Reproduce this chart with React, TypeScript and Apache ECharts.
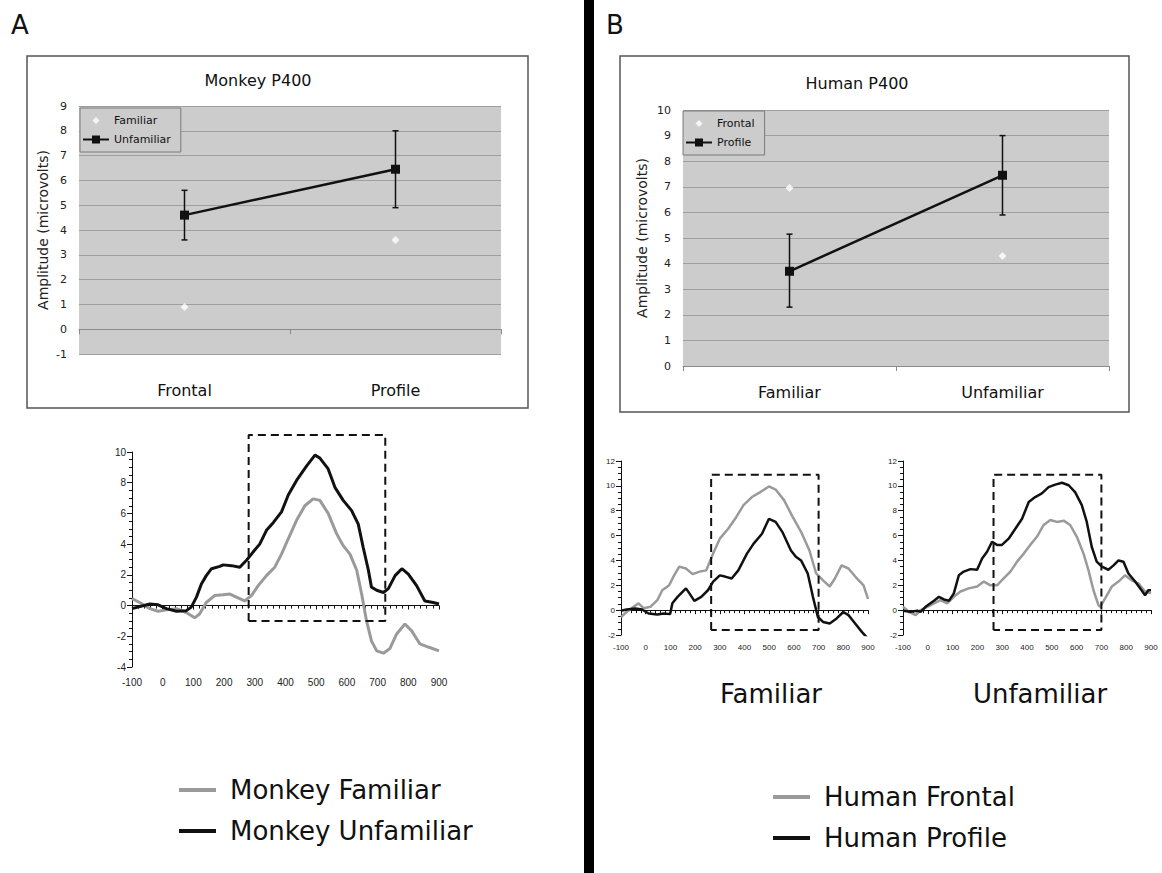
import React, { useEffect, useRef } from "react";
import * as echarts from "echarts";

// ---------- Top panels (P400 means) ----------
const monkeyCategories = ["Frontal", "Profile"];
const monkeyFamiliar = [0.9, 3.6];
const monkeyUnfamiliar = [4.6, 6.45];
const monkeyUnfamiliarLow = [3.6, 4.9];
const monkeyUnfamiliarHigh = [5.6, 8.0];

const humanCategories = ["Familiar", "Unfamiliar"];
const humanFrontal = [6.95, 4.3];
const humanProfile = [3.7, 7.45];
const humanProfileLow = [2.3, 5.9];
const humanProfileHigh = [5.15, 9.0];

// ---------- Monkey ERP ----------
const monkeyUnfTime = [-100, -42, -15, 12, 45, 77, 93, 110, 126, 142, 159, 186, 197, 224, 251, 273, 295, 316, 338, 360, 387, 409, 436, 469, 496, 512, 539, 561, 588, 615, 637, 653, 670, 680, 697, 719, 735, 757, 779, 800, 827, 854, 881, 900];
const monkeyUnfAmp = [-0.2, 0.1, 0.05, -0.2, -0.37, -0.33, -0.1, 0.55, 1.4, 1.95, 2.4, 2.55, 2.65, 2.6, 2.5, 2.95, 3.5, 4.0, 4.9, 5.4, 6.1, 7.2, 8.15, 9.1, 9.8, 9.6, 8.9, 7.7, 6.85, 6.2, 5.3, 3.8, 2.3, 1.2, 1.0, 0.85, 1.1, 1.95, 2.4, 2.05, 1.3, 0.3, 0.2, 0.1];
const monkeyFamTime = [-100, -75, -42, -15, 12, 45, 77, 104, 120, 142, 169, 197, 219, 240, 267, 289, 311, 338, 365, 387, 409, 436, 463, 490, 512, 539, 566, 588, 610, 632, 648, 664, 680, 697, 719, 740, 762, 789, 811, 838, 865, 900];
const monkeyFamAmp = [0.45, 0.2, -0.2, -0.37, -0.28, -0.2, -0.45, -0.8, -0.55, 0.2, 0.65, 0.7, 0.75, 0.55, 0.3, 0.65, 1.3, 1.95, 2.5, 3.35, 4.35, 5.55, 6.5, 6.95, 6.85, 6.0, 4.7, 3.9, 3.35, 2.3, 0.75, -1.0, -2.3, -2.95, -3.1, -2.8, -1.85, -1.2, -1.65, -2.5, -2.7, -2.95];
const monkeyWindowX = [280, 280, 725, 725, 280];
const monkeyWindowY = [-1, 11.1, 11.1, -1, -1];

// ---------- Human ERP, familiar faces ----------
const humFamFrontalTime = [-100, -77, -49, -29, -8, 19, 47, 67, 95, 115, 136, 163, 190, 218, 245, 273, 300, 334, 362, 396, 430, 464, 499, 526, 560, 595, 629, 663, 690, 718, 745, 766, 793, 821, 855, 882, 900];
const humFamFrontalAmp = [-0.55, -0.15, 0.27, 0.55, 0.15, 0.27, 0.8, 1.6, 2.0, 2.8, 3.5, 3.35, 2.9, 3.1, 3.2, 4.55, 5.75, 6.55, 7.35, 8.45, 9.1, 9.5, 9.95, 9.7, 8.85, 7.5, 6.3, 4.8, 2.95, 2.4, 1.9, 2.55, 3.6, 3.35, 2.55, 2.0, 0.9];
const humFamProfileTime = [-100, -77, -42, -15, 12, 47, 74, 99, 108, 129, 163, 177, 197, 225, 252, 273, 300, 321, 348, 375, 410, 437, 471, 499, 526, 553, 588, 608, 629, 656, 677, 697, 718, 745, 773, 800, 821, 848, 875, 900];
const humFamProfileAmp = [-0.05, 0.05, 0.13, 0.05, -0.27, -0.35, -0.27, -0.32, 0.55, 1.07, 1.75, 1.35, 0.75, 1.07, 1.6, 2.3, 2.8, 2.7, 2.55, 3.2, 4.55, 5.35, 6.15, 7.35, 7.1, 6.3, 4.8, 4.3, 4.0, 2.95, 1.07, -0.55, -0.95, -1.07, -0.67, -0.15, -0.4, -1.07, -1.75, -2.3];

// ---------- Human ERP, unfamiliar faces ----------
const humUnfFrontalTime = [-100, -76, -49, -29, -2, 25, 51, 78, 105, 132, 165, 199, 226, 253, 279, 306, 333, 360, 387, 413, 440, 467, 494, 521, 548, 574, 601, 628, 648, 668, 688, 695, 715, 742, 769, 795, 822, 849, 876, 900];
const humUnfFrontalAmp = [0.27, -0.13, -0.4, 0, 0.27, 0.55, 0.8, 0.55, 1.07, 1.5, 1.75, 1.9, 2.3, 2.0, 2.0, 2.55, 3.1, 3.9, 4.55, 5.25, 5.9, 6.85, 7.25, 7.1, 7.2, 6.85, 5.9, 4.55, 3.2, 1.6, 0.4, 0.27, 0.95, 1.9, 2.3, 2.8, 2.4, 2.15, 1.5, 1.35];
const humUnfProfileTime = [-100, -69, -42, -29, -9, 25, 45, 65, 85, 105, 125, 145, 172, 199, 219, 239, 259, 279, 299, 326, 353, 380, 407, 433, 460, 487, 514, 541, 568, 594, 621, 641, 661, 681, 702, 728, 749, 769, 789, 809, 836, 862, 876, 889, 900];
const humUnfProfileAmp = [-0.05, -0.13, -0.05, -0.13, 0.27, 0.75, 1.07, 0.86, 0.75, 1.35, 2.8, 3.1, 3.3, 3.25, 4.15, 4.7, 5.5, 5.25, 5.25, 5.75, 6.55, 7.35, 8.7, 9.1, 9.4, 9.9, 10.1, 10.25, 10.05, 9.5, 8.45, 7.1, 5.1, 3.9, 3.5, 3.25, 3.6, 4.0, 3.9, 2.95, 2.3, 1.6, 1.2, 1.6, 1.6];
const humanWindowX = [265, 265, 700, 700, 265];
const humanWindowY = [-1.6, 10.9, 10.9, -1.6, -1.6];

const FONT = "DejaVu Sans";
const ARIAL = "Liberation Sans";
const GREY = "#9a9a9a";
const BLACK = "#111111";
const DIAMOND_ICON = "path://M0,0 M14,14 M7,2 L12,7 L7,12 L2,7 Z";

const zip = (a: number[], b: number[]) => a.map((v, i) => [v, b[i]]);

// axis drawn on the zero line (line + ticks only)
function topXAxis(gridIndex: number, data: string[]) {
  return {
    type: "category",
    gridIndex,
    data,
    position: "bottom",
    boundaryGap: true,
    axisLine: { show: true, onZero: true, lineStyle: { color: "#8a8a8a", width: 1 } },
    axisTick: { show: true, length: 5, lineStyle: { color: "#8a8a8a" } },
    axisLabel: { show: false },
    splitLine: { show: false },
  };
}
// category labels under the plot area
function topLabelAxis(gridIndex: number, data: string[], margin: number) {
  return {
    type: "category",
    gridIndex,
    data,
    position: "bottom",
    boundaryGap: true,
    axisLine: { show: false, onZero: false },
    axisTick: { show: false },
    axisLabel: { margin, fontSize: 16, fontFamily: FONT, color: BLACK },
    splitLine: { show: false },
  };
}

function topYAxis(gridIndex: number, min: number, max: number, nameGap: number) {
  return {
    type: "value",
    gridIndex,
    min,
    max,
    interval: 1,
    name: "Amplitude (microvolts)",
    nameLocation: "middle",
    nameGap,
    nameTextStyle: { fontSize: 14, fontFamily: FONT, color: "#222" },
    axisLine: { show: false },
    axisTick: { show: false },
    axisLabel: { margin: 12, fontSize: 11, fontFamily: FONT, color: "#222" },
    splitLine: { show: true, lineStyle: { color: "#9f9f9f", width: 1 } },
  };
}

function erpXAxis(gridIndex: number) {
  return {
    type: "value",
    gridIndex,
    position: "bottom",
    min: -100,
    max: 900,
    interval: 100,
    axisLine: { show: true, onZero: true, lineStyle: { color: BLACK, width: 1 } },
    axisTick: { show: true, length: 4, lineStyle: { color: BLACK } },
    minorTick: { show: true, splitNumber: 5, length: 3, lineStyle: { color: BLACK } },
    axisLabel: { show: false },
    splitLine: { show: false },
    minorSplitLine: { show: false },
  };
}
function erpLabelAxis(gridIndex: number, fontSize: number, margin: number) {
  return {
    type: "value",
    gridIndex,
    position: "bottom",
    min: -100,
    max: 900,
    interval: 100,
    axisLine: { show: false, onZero: false },
    axisTick: { show: false },
    minorTick: { show: false },
    axisLabel: { margin, fontSize, fontFamily: ARIAL, color: "#222" },
    splitLine: { show: false },
  };
}

function erpYAxis(gridIndex: number, min: number, max: number, fontSize: number) {
  return {
    type: "value",
    gridIndex,
    min,
    max,
    interval: 2,
    axisLine: { show: true, onZero: false, lineStyle: { color: BLACK, width: 1 } },
    axisTick: { show: true, length: 5, lineStyle: { color: BLACK } },
    minorTick: { show: true, splitNumber: 4, length: 3, lineStyle: { color: BLACK } },
    axisLabel: { margin: 6, fontSize, fontFamily: ARIAL, color: "#222" },
    splitLine: { show: false },
    minorSplitLine: { show: false },
  };
}

function errorBars(xi: number, cats: string[], lo: number[], hi: number[]) {
  return {
    type: "custom",
    name: "err" + xi,
    xAxisIndex: xi,
    yAxisIndex: xi,
    z: 2,
    data: cats.map((_, i) => [i, lo[i], hi[i]]),
    encode: { x: 0, y: [1, 2] },
    renderItem: (_params: any, api: any) => {
      const a = api.coord([api.value(0), api.value(1)]);
      const b = api.coord([api.value(0), api.value(2)]);
      const w = 3;
      const st = { stroke: BLACK, lineWidth: 1.5 };
      return {
        type: "group",
        children: [
          { type: "line", shape: { x1: a[0], y1: a[1], x2: b[0], y2: b[1] }, style: st },
          { type: "line", shape: { x1: a[0] - w, y1: a[1], x2: a[0] + w, y2: a[1] }, style: st },
          { type: "line", shape: { x1: b[0] - w, y1: b[1], x2: b[0] + w, y2: b[1] }, style: st },
        ],
      };
    },
  };
}

function erpLine(name: string, xi: number, t: number[], v: number[], color: string, width: number) {
  return {
    type: "line",
    name,
    xAxisIndex: xi,
    yAxisIndex: xi,
    data: zip(t, v),
    showSymbol: false,
    symbol: "none",
    smooth: false,
    itemStyle: { color },
    lineStyle: { color, width },
    z: color === BLACK ? 4 : 3,
  };
}

function windowBox(xi: number, xs: number[], ys: number[]) {
  return {
    type: "line",
    name: "window" + xi,
    xAxisIndex: xi,
    yAxisIndex: xi,
    data: zip(xs, ys),
    showSymbol: false,
    symbol: "none",
    clip: false,
    lineStyle: { color: BLACK, width: 2, type: [8, 5] },
    z: 5,
  };
}

function topLegend(left: number, top: number, names: string[]) {
  return {
    orient: "vertical",
    left,
    top,
    data: [{ name: names[0], icon: DIAMOND_ICON }, { name: names[1] }],
    selectedMode: false,
    symbolKeepAspect: true,
    backgroundColor: "#cccccc",
    borderColor: "#7a7a7a",
    borderWidth: 1,
    padding: [7, 10, 7, 2],
    itemGap: 8,
    itemWidth: 26,
    itemHeight: 10,
    textStyle: { fontSize: 11, fontFamily: FONT, color: BLACK },
  };
}

function bottomLegend(left: number, top: number, names: string[]) {
  return {
    orient: "vertical",
    left,
    top,
    data: names,
    selectedMode: false,
    icon: "rect",
    itemWidth: 37,
    itemHeight: 4,
    itemGap: 11,
    padding: 0,
    textStyle: { fontSize: 26, fontFamily: FONT, color: BLACK, lineHeight: 30, padding: [0, 0, 0, 9] },
  };
}

const gridBase = { containLabel: false, outerBoundsMode: "none" };

export default function App() {
  const ref = useRef<HTMLDivElement>(null);
  useEffect(() => {
    if (!ref.current) return;
    const chart = echarts.init(ref.current, null, { renderer: "svg" });
    const option: any = {
      animation: false,
      backgroundColor: "#ffffff",
      grid: [
        { ...gridBase, left: 79, top: 106, width: 422, height: 248, show: true, backgroundColor: "#cccccc", borderWidth: 0 },
        { ...gridBase, left: 683, top: 110, width: 426, height: 256, show: true, backgroundColor: "#cccccc", borderWidth: 0 },
        { ...gridBase, left: 132, top: 452, width: 307, height: 215 },
        { ...gridBase, left: 621, top: 461, width: 247, height: 174 },
        { ...gridBase, left: 903, top: 461, width: 248, height: 174 },
      ],
      xAxis: [
        topXAxis(0, monkeyCategories),
        topXAxis(1, humanCategories),
        erpXAxis(2),
        erpXAxis(3),
        erpXAxis(4),
        topLabelAxis(0, monkeyCategories, 28),
        topLabelAxis(1, humanCategories, 18),
        erpLabelAxis(2, 10, 10),
        erpLabelAxis(3, 8, 8),
        erpLabelAxis(4, 8, 8),
      ],
      yAxis: [
        topYAxis(0, -1, 9, 29),
        topYAxis(1, 0, 10, 34),
        erpYAxis(2, -4, 10, 10),
        erpYAxis(3, -2, 12, 8),
        erpYAxis(4, -2, 12, 8),
      ],
      legend: [
        topLegend(80, 108, ["Familiar", "Unfamiliar"]),
        topLegend(683, 111, ["Frontal", "Profile"]),
        bottomLegend(179, 775, ["Monkey Familiar", "Monkey Unfamiliar"]),
        bottomLegend(773, 782, ["Human Frontal", "Human Profile"]),
      ],
      series: [
        errorBars(0, monkeyCategories, monkeyUnfamiliarLow, monkeyUnfamiliarHigh),
        {
          type: "scatter", name: "Familiar", xAxisIndex: 0, yAxisIndex: 0, data: monkeyFamiliar,
          symbol: "diamond", symbolSize: 8, itemStyle: { color: "#ffffff" }, z: 3,
        },
        {
          type: "line", name: "Unfamiliar", xAxisIndex: 0, yAxisIndex: 0, data: monkeyUnfamiliar,
          symbol: "rect", symbolSize: 9, showSymbol: true, itemStyle: { color: BLACK },
          lineStyle: { color: BLACK, width: 2.5 }, z: 4,
        },
        errorBars(1, humanCategories, humanProfileLow, humanProfileHigh),
        {
          type: "scatter", name: "Frontal", xAxisIndex: 1, yAxisIndex: 1, data: humanFrontal,
          symbol: "diamond", symbolSize: 8, itemStyle: { color: "#ffffff" }, z: 3,
        },
        {
          type: "line", name: "Profile", xAxisIndex: 1, yAxisIndex: 1, data: humanProfile,
          symbol: "rect", symbolSize: 9, showSymbol: true, itemStyle: { color: BLACK },
          lineStyle: { color: BLACK, width: 2.5 }, z: 4,
        },
        erpLine("Monkey Familiar", 2, monkeyFamTime, monkeyFamAmp, GREY, 3),
        erpLine("Monkey Unfamiliar", 2, monkeyUnfTime, monkeyUnfAmp, BLACK, 3),
        windowBox(2, monkeyWindowX, monkeyWindowY),
        erpLine("Human Frontal", 3, humFamFrontalTime, humFamFrontalAmp, GREY, 2.5),
        erpLine("Human Profile", 3, humFamProfileTime, humFamProfileAmp, BLACK, 2.5),
        windowBox(3, humanWindowX, humanWindowY),
        erpLine("Human Frontal", 4, humUnfFrontalTime, humUnfFrontalAmp, GREY, 2.5),
        erpLine("Human Profile", 4, humUnfProfileTime, humUnfProfileAmp, BLACK, 2.5),
        windowBox(4, humanWindowX, humanWindowY),
      ],
      graphic: [
        { type: "rect", shape: { x: 27, y: 56, width: 501, height: 352 }, style: { fill: "none", stroke: "#555", lineWidth: 1.5 }, z: 0 },
        { type: "rect", shape: { x: 620, y: 56, width: 509, height: 356 }, style: { fill: "none", stroke: "#555", lineWidth: 1.5 }, z: 0 },
        { type: "rect", shape: { x: 584, y: 0, width: 10, height: 873 }, style: { fill: "#000" }, z: 10 },
        { type: "text", x: 11, y: 25, style: { text: "A", fontSize: 26, fontFamily: FONT, fill: BLACK, align: "left", verticalAlign: "middle" } },
        { type: "text", x: 606, y: 25, style: { text: "B", fontSize: 26, fontFamily: FONT, fill: BLACK, align: "left", verticalAlign: "middle" } },
        { type: "text", x: 258, y: 80, style: { text: "Monkey P400", fontSize: 16, fontFamily: FONT, fill: BLACK, align: "center", verticalAlign: "middle" } },
        { type: "text", x: 857, y: 83, style: { text: "Human P400", fontSize: 16, fontFamily: FONT, fill: BLACK, align: "center", verticalAlign: "middle" } },
        { type: "text", x: 771, y: 694, style: { text: "Familiar", fontSize: 26, fontFamily: FONT, fill: BLACK, align: "center", verticalAlign: "middle" } },
        { type: "text", x: 1040, y: 694, style: { text: "Unfamiliar", fontSize: 26, fontFamily: FONT, fill: BLACK, align: "center", verticalAlign: "middle" } },
      ],
    };
    chart.setOption(option);
    return () => chart.dispose();
  }, []);
  return <div ref={ref} style={{ position: "fixed", left: 0, top: 0, width: 1162, height: 873 }} />;
}
